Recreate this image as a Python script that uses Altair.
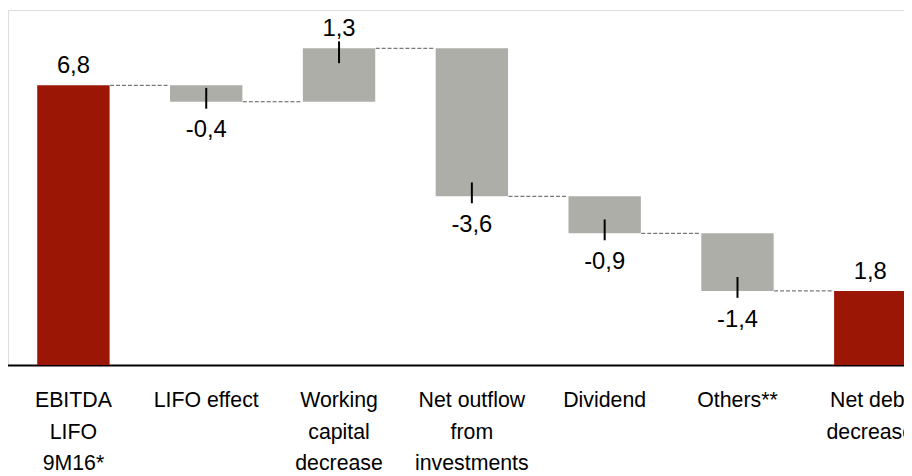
import altair as alt
import pandas as pd

# ---- data ----
categories = ["EBITDA|LIFO|9M16*", "LIFO effect", "Working|capital|decrease",
              "Net outflow|from|investments", "Dividend", "Others**", "Net debt|decrease"]
deltas = [6.8, -0.4, 1.3, -3.6, -0.9, -1.4, 1.8]
kinds = ["total", "delta", "delta", "delta", "delta", "delta", "total"]

RED = "#9C1606"
GRAY = "#AEAEA9"

rows = []
level = 0.0
for c, d, k in zip(categories, deltas, kinds):
    if k == "total":
        start, end = 0.0, d
        level = d
    else:
        start, end = level, round(level + d, 2)
        level = end
    rows.append({"cat": c, "delta": d, "kind": k, "start": start, "end": end,
                 "label": "{:.1f}".format(d).replace(".", ",")})
df = pd.DataFrame(rows)

conn = pd.DataFrame({
    "cat": categories[:-1],
    "nxt": categories[1:],
    "lvl": [r["end"] for r in rows[:-1]],
})

xscale = alt.Scale(domain=categories, range=[-1, 937], paddingInner=0.455, paddingOuter=0.2275)
yscale = alt.Scale(domain=[0, 8.63], nice=False, zero=True)

x_axis = alt.Axis(title=None, labelExpr="split(datum.label, '|')", labelAngle=0,
                  labelFontSize=21.5, labelFont="Liberation Sans", labelColor="black",
                  labelLineHeight=32, labelPadding=25, ticks=False, tickSize=0,
                  domainColor="black", domainWidth=2, labelBaseline="top")

base = alt.Chart(df)

bars = base.mark_bar().encode(
    x=alt.X("cat:N", scale=xscale, axis=x_axis),
    y=alt.Y("start:Q", scale=yscale, axis=None),
    y2="end:Q",
    color=alt.Color("kind:N", scale=alt.Scale(domain=["total", "delta"], range=[RED, GRAY]), legend=None),
)

connectors = alt.Chart(conn).mark_rule(color="#555555", strokeDash=[4, 2], strokeWidth=1,
                                       xOffset=37, x2Offset=-37).encode(
    x=alt.X("cat:N", scale=xscale),
    x2="nxt:N",
    y=alt.Y("lvl:Q", scale=yscale),
)

ticks_pos = base.transform_filter("datum.kind == 'delta' && datum.delta > 0").mark_rule(
    color="black", strokeWidth=2, yOffset=-7, y2Offset=15).encode(
    x=alt.X("cat:N", scale=xscale), y=alt.Y("end:Q", scale=yscale), y2="end:Q")

ticks_neg = base.transform_filter("datum.kind == 'delta' && datum.delta < 0").mark_rule(
    color="black", strokeWidth=2, yOffset=-14, y2Offset=7).encode(
    x=alt.X("cat:N", scale=xscale), y=alt.Y("end:Q", scale=yscale), y2="end:Q")

txt_pos = base.transform_filter("datum.delta > 0").mark_text(
    font="Liberation Sans", fontSize=24, color="black", baseline="alphabetic", dy=-12).encode(
    x=alt.X("cat:N", scale=xscale), y=alt.Y("end:Q", scale=yscale), text="label:N")

txt_neg = base.transform_filter("datum.delta < 0").mark_text(
    font="Liberation Sans", fontSize=24, color="black", baseline="alphabetic", dy=36).encode(
    x=alt.X("cat:N", scale=xscale), y=alt.Y("end:Q", scale=yscale), text="label:N")

chart = alt.layer(bars, connectors, ticks_pos, ticks_neg, txt_pos, txt_neg).properties(
    width=904, height=358,
    autosize=alt.AutoSizeParams(type="none"),
    padding={"left": 0, "top": 0, "right": 0, "bottom": 110},
).configure_view(stroke=None).configure(background="white")

chart.save("out.html", embed_options={"renderer": "svg", "actions": False})
